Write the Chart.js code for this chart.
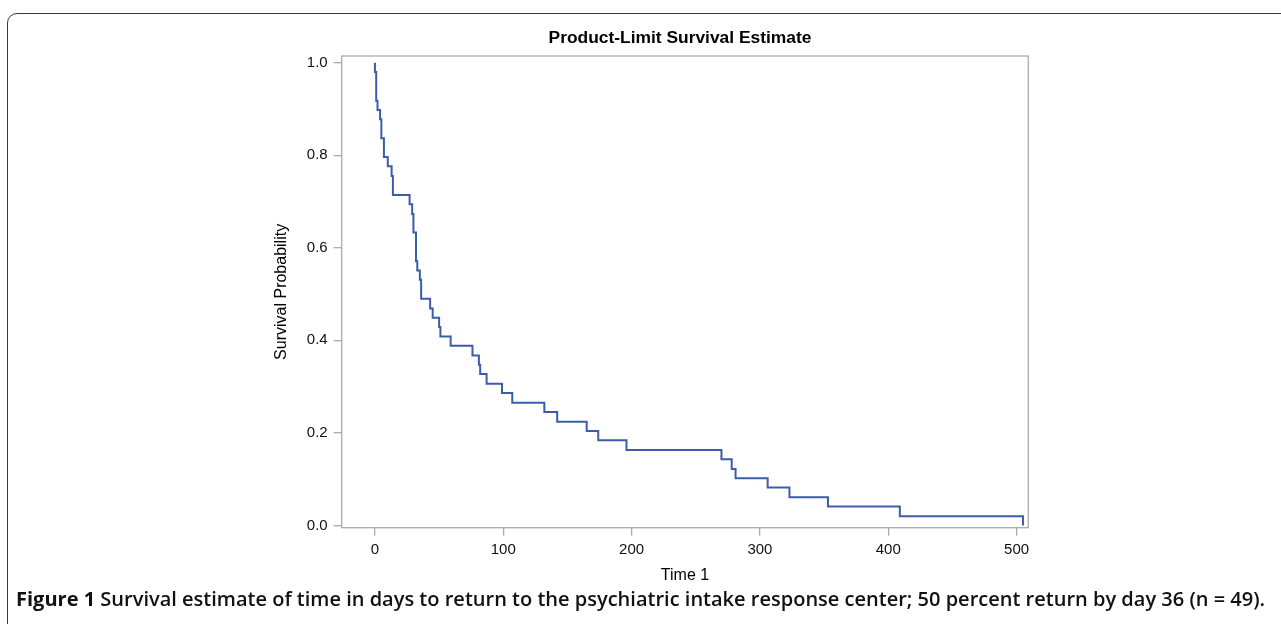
<!DOCTYPE html>
<html>
<head>
<meta charset="utf-8">
<script src="https://cdn.jsdelivr.net/npm/chart.js@4/dist/chart.umd.min.js"></script>
<style>
  html, body { margin: 0; padding: 0; background: #ffffff; width: 1281px; height: 624px; overflow: hidden; }
  #frame { position: absolute; left: 7px; top: 13px; width: 1400px; height: 800px;
           border: 1.5px solid #3a3a3a; border-top-left-radius: 10px; box-sizing: border-box; }
  #chart { position: absolute; left: 0; top: 0; }
  #title { position: absolute; left: 480px; width: 400px; top: 26px; text-align: center;
           font-family: "Liberation Sans", Arial, sans-serif; font-weight: bold; font-size: 17.4px;
           line-height: 22px; color: #000; }
  #caption { position: absolute; left: 16px; top: 586px; white-space: nowrap;
             font-family: "Open Sans", sans-serif; font-size: 16px; line-height: 26px; color: #111; font-weight: 600; }
  #caption b { font-weight: 700; }
</style>
</head>
<body>
<div id="frame"></div>
<canvas id="chart" width="1281" height="624"></canvas>
<div id="title">Product-Limit Survival Estimate</div>
<div id="caption"><b>Figure 1</b> Survival estimate of time in days to return to the psychiatric intake response center; 50 percent return by day 36 (n = 49).</div>
<script>
// ---- data ----
const eventDays = [0, 0, 1, 2, 4, 5, 7, 10, 13, 14, 27, 29, 30, 32, 33, 35, 36, 43, 45, 50, 51, 59, 76, 81, 82, 87, 99, 107, 132, 142, 165, 174, 196, 270, 278, 281, 306, 323, 353, 409, 505];
const survival  = [1.000, 0.980, 0.918, 0.898, 0.878, 0.837, 0.796, 0.776, 0.755, 0.714, 0.694, 0.673, 0.633, 0.571, 0.551, 0.531, 0.490, 0.469, 0.449, 0.429, 0.408, 0.388, 0.367, 0.347, 0.327, 0.306, 0.286, 0.265, 0.245, 0.224, 0.204, 0.184, 0.163, 0.143, 0.122, 0.102, 0.082, 0.061, 0.041, 0.020, 0.000];
const xTicks = [0, 100, 200, 300, 400, 500];
const yTicks = [0.0, 0.2, 0.4, 0.6, 0.8, 1.0];
const xTitle = "Time 1";
const yTitle = "Survival Probability";

const points = eventDays.map((d, i) => ({ x: d, y: survival[i] }));

const frameBox = {
  id: 'frameBox',
  afterDraw(chart) {
    const a = chart.chartArea, ctx = chart.ctx;
    ctx.save();
    ctx.strokeStyle = '#ababab';
    ctx.lineWidth = 1.3;
    ctx.strokeRect(a.left, a.top, a.right - a.left, a.bottom - a.top);
    ctx.restore();
  }
};

const tickFont = { family: "'Liberation Sans', Arial, sans-serif", size: 15 };
const titleFont = { family: "'Liberation Sans', Arial, sans-serif", size: 16 };

new Chart(document.getElementById('chart'), {
  type: 'line',
  data: {
    datasets: [{
      data: points,
      borderColor: '#3d5ca9',
      borderWidth: 2,
      pointRadius: 0,
      stepped: 'before',
      fill: false
    }]
  },
  options: {
    responsive: false,
    animation: false,
    layout: { padding: { left: 272, top: 56, right: 252.7, bottom: 38.4 } },
    plugins: { legend: { display: false }, title: { display: false }, tooltip: { enabled: false } },
    scales: {
      x: {
        type: 'linear',
        min: -25.9, max: 509.1,
        afterBuildTicks: s => { s.ticks = xTicks.map(v => ({ value: v })); },
        afterFit: s => { s.height = 57.9; },
        ticks: { font: tickFont, color: '#111', padding: 5, maxRotation: 0 },
        grid: { drawOnChartArea: false, drawTicks: true, tickLength: 8, color: '#ababab', lineWidth: 1.3 },
        border: { display: false },
        title: { display: true, text: xTitle, font: titleFont, color: '#000', padding: 0 }
      },
      y: {
        type: 'linear',
        min: -0.005, max: 1.0145,
        afterBuildTicks: s => { s.ticks = yTicks.map(v => ({ value: v })); },
        afterFit: s => { s.width = 69.7; },
        ticks: { font: tickFont, color: '#111', padding: 6, callback: v => Number(v).toFixed(1) },
        grid: { drawOnChartArea: false, drawTicks: true, tickLength: 8, color: '#ababab', lineWidth: 1.3 },
        border: { display: false },
        title: { display: true, text: yTitle, font: titleFont, color: '#000', padding: 0 }
      }
    }
  },
  plugins: [frameBox]
});

// fit caption width to the reference span by sizing the font
(function () {
  const cap = document.getElementById('caption');
  const target = 1250;
  const w = cap.getBoundingClientRect().width;
  cap.style.fontSize = (16 * target / w).toFixed(2) + 'px';
})();
</script>
</body>
</html>
